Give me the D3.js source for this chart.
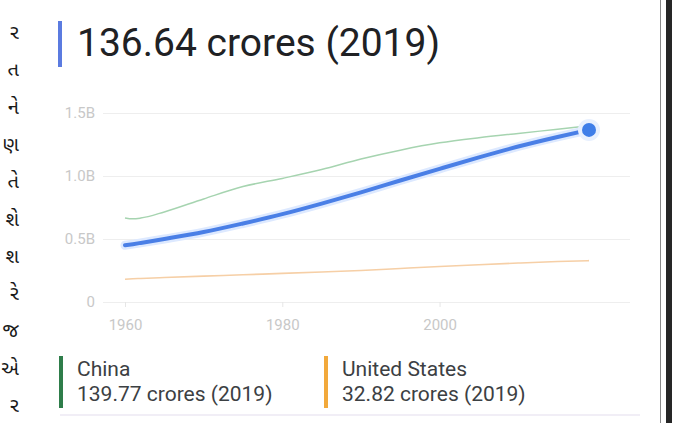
<!DOCTYPE html>
<html>
<head>
<meta charset="utf-8">
<script src="https://cdnjs.cloudflare.com/ajax/libs/d3/7.8.5/d3.min.js"></script>
<style>
  body { margin: 0; background: #fff; }
  svg { display: block; }
</style>
</head>
<body>
<div id="wrapper"></div>
<script>
// population, billions
const years = [1960, 1961, 1962, 1965, 1970, 1975, 1980, 1985, 1990, 1995, 2000, 2005, 2010, 2015, 2019];
const india = [0.450, 0.459, 0.469, 0.500, 0.555, 0.623, 0.697, 0.781, 0.870, 0.964, 1.057, 1.148, 1.234, 1.310, 1.366];
const china = [0.667, 0.660, 0.666, 0.715, 0.818, 0.916, 0.981, 1.051, 1.135, 1.205, 1.263, 1.304, 1.338, 1.371, 1.398];
const usa = [0.181, 0.184, 0.187, 0.194, 0.205, 0.216, 0.227, 0.238, 0.250, 0.266, 0.282, 0.296, 0.309, 0.321, 0.328];

const yTicks = [0, 0.5, 1.0, 1.5];
const yTickLabels = ["0", "0.5B", "1.0B", "1.5B"];
const xTicks = [1960, 1980, 2000];

const headline = "136.64 crores (2019)";
const legendItems = [
  { name: "China", value: "139.77 crores (2019)", color: "#2e7d4a" },
  { name: "United States", value: "32.82 crores (2019)", color: "#f2a93b" }
];
// clipped column of text from the neighbouring page
const sideChars = ["ર", "ત", "ને", "ણ", "તે", "શે", "શ", "રે", "જ", "એ", "ર"];

const dimensions = { width: 676, height: 423 };

const svg = d3.select("#wrapper")
  .append("svg")
  .attr("width", dimensions.width)
  .attr("height", dimensions.height)
  .style("font-family", "Roboto, 'Noto Sans', sans-serif");

const xScale = d3.scaleLinear().domain([1960, 2019]).range([125, 589]);
const yScale = d3.scaleLinear().domain([0, 1.5]).range([302, 113]);

// side text
svg.append("g")
  .selectAll("text")
  .data(sideChars)
  .join("text")
  .attr("x", 19)
  .attr("y", (d, i) => 39 + i * 37.3)
  .attr("text-anchor", "end")
  .attr("font-size", 20)
  .attr("font-family", "'Noto Sans Gujarati', 'Noto Sans', sans-serif")
  .attr("fill", "#1a1a1a")
  .text(d => d);

// headline
svg.append("rect")
  .attr("x", 58).attr("y", 21).attr("width", 4).attr("height", 46)
  .attr("fill", "#5b7be0");
svg.append("text")
  .attr("x", 77).attr("y", 56)
  .attr("font-size", 39)
  .attr("fill", "#202124")
  .text(headline);

// y grid + labels
const yAxis = svg.append("g")
  .attr("transform", "translate(103,0)")
  .call(d3.axisLeft(yScale)
    .tickValues(yTicks)
    .tickSize(-527)
    .tickPadding(8)
    .tickFormat((d, i) => yTickLabels[i]));
yAxis.select(".domain").remove();
yAxis.selectAll(".tick line").attr("stroke", "#eeeeee");
yAxis.selectAll(".tick text")
  .attr("fill", "#c8c8c8")
  .attr("font-size", 15)
  .attr("font-family", "Roboto, sans-serif");

// x axis labels
const xAxis = svg.append("g")
  .attr("transform", "translate(0,302)")
  .call(d3.axisBottom(xScale)
    .tickValues(xTicks)
    .tickSize(5)
    .tickPadding(12)
    .tickFormat(d3.format("d")));
xAxis.select(".domain").remove();
xAxis.selectAll(".tick line").attr("stroke", "#e6e6e6");
xAxis.selectAll(".tick text")
  .attr("fill", "#c8c8c8")
  .attr("font-size", 15)
  .attr("font-family", "Roboto, sans-serif");

const line = d3.line()
  .x((d, i) => xScale(years[i]))
  .y(d => yScale(d))
  .curve(d3.curveMonotoneX);

svg.append("path")
  .attr("d", line(usa))
  .attr("fill", "none")
  .attr("stroke", "#f6cfa6")
  .attr("stroke-width", 1.6);

svg.append("path")
  .attr("d", line(china))
  .attr("fill", "none")
  .attr("stroke", "#a6d4b0")
  .attr("stroke-width", 1.5);

// india highlighted
svg.append("path")
  .attr("d", line(india))
  .attr("fill", "none")
  .attr("stroke", "#dde9ff")
  .attr("stroke-width", 9)
  .attr("stroke-linecap", "round");
svg.append("path")
  .attr("d", line(india))
  .attr("fill", "none")
  .attr("stroke", "#4a7fe6")
  .attr("stroke-width", 4)
  .attr("stroke-linecap", "round");

const last = india.length - 1;
svg.append("circle")
  .attr("cx", xScale(years[last]))
  .attr("cy", yScale(india[last]))
  .attr("r", 11)
  .attr("fill", "#e8f0fe");
svg.append("circle")
  .attr("cx", xScale(years[last]))
  .attr("cy", yScale(india[last]))
  .attr("r", 7)
  .attr("fill", "#3f7ee8");

// legend
const legend = svg.append("g")
  .selectAll("g")
  .data(legendItems)
  .join("g")
  .attr("transform", (d, i) => `translate(${59 + i * 265},0)`);
legend.append("rect")
  .attr("x", 0).attr("y", 356).attr("width", 4).attr("height", 52)
  .attr("fill", d => d.color);
legend.append("text")
  .attr("x", 18).attr("y", 376)
  .attr("font-size", 21)
  .attr("fill", "#3c4043")
  .text(d => d.name);
legend.append("text")
  .attr("x", 18).attr("y", 401)
  .attr("font-size", 21)
  .attr("fill", "#3c4043")
  .text(d => d.value);

svg.append("line")
  .attr("x1", 60).attr("x2", 640).attr("y1", 415).attr("y2", 415)
  .attr("stroke", "#f1eef6").attr("stroke-width", 2);

// page border on the right
svg.append("line")
  .attr("x1", 660.5).attr("x2", 660.5).attr("y1", 0).attr("y2", 423)
  .attr("stroke", "#8a8a8a").attr("stroke-width", 1);
svg.append("rect")
  .attr("x", 666).attr("y", 0).attr("width", 6).attr("height", 423)
  .attr("fill", "#262626");
</script>
</body>
</html>
